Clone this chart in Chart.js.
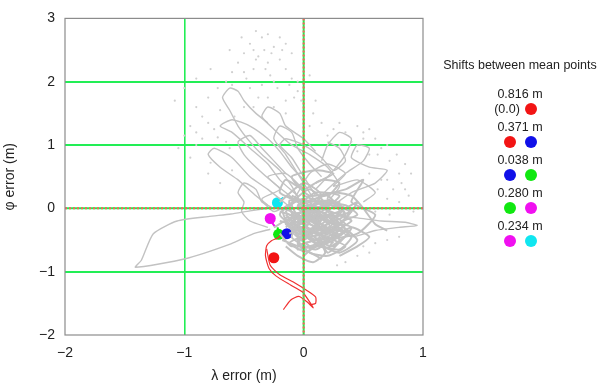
<!DOCTYPE html>
<html>
<head>
<meta charset="utf-8">
<script src="https://cdn.jsdelivr.net/npm/chart.js@4/dist/chart.umd.min.js"></script>
<style>
  body { margin: 0; background: #fff; }
  #wrap { position: relative; width: 601px; height: 387px; font-family: "Liberation Sans", Arial, sans-serif; color: #222; }
  #legend div { position: absolute; }
  .lbl { font-size: 12.5px; text-align: center; width: 80px; line-height: 14px; }
  .dot { width: 12px; height: 12px; border-radius: 50%; }
</style>
</head>
<body>
<div id="wrap">
  <canvas id="chart" width="601" height="387"></canvas>
  <div id="legend"></div>
</div>
<script>
'use strict';

// axis ticks
let xTicks = [-2, -1, 0, 1];
let yTicks = [-2, -1, 0, 1, 2, 3];

// mean points (x = lambda error, y = phi error)
let meanNames = ['red', 'blue', 'green', 'magenta', 'cyan'];
let meanColors = ['#f21414', '#1010e8', '#10e810', '#f010f0', '#10e6f0'];
let meanX = [-0.25, -0.14, -0.21, -0.28, -0.22];
let meanY = [-0.78, -0.40, -0.41, -0.16, 0.09];

// legend
let shiftLabels = ['0.816 m', '0.371 m', '0.038 m', '0.280 m', '0.234 m'];
let shiftPairs = [[null, 0], [0, 1], [1, 2], [2, 3], [3, 4]];

// red trajectory
let redPath = [[-0.19,-0.42],[-0.22,-0.47],[-0.27,-0.51],[-0.31,-0.59],[-0.32,-0.75],[-0.29,-0.95],[-0.23,-1.07],[-0.11,-1.21],[-0.01,-1.32],[0.04,-1.45],[0.08,-1.57],[0.03,-1.48],[-0.04,-1.39],[-0.11,-1.45],[-0.17,-1.6]];
let redPath2 = [[-0.31,-0.64],[-0.28,-0.9],[-0.2,-1.05],[-0.08,-1.17],[0.03,-1.3],[0.1,-1.4],[0.1,-1.5],[0.06,-1.52]];

// colored trails near mean points
let cyanTrail = [[-0.25,0.0],[-0.22,0.09],[-0.19,0.14],[-0.17,0.17]];
let magentaTrail = [[-0.28,-0.16],[-0.26,-0.24],[-0.24,-0.29]];
let greenTrail = [[-0.22,-0.3],[-0.21,-0.36],[-0.21,-0.41]];

// gray trajectories
let grayPaths = [
  [[-0.28,-0.33],[-0.42,-0.4],[-0.61,-0.56],[-1.0,-0.8],[-1.41,-0.93],[-1.36,-0.82],[-1.26,-0.4],[-1.06,-0.2],[-0.8,-0.13],[-0.61,-0.09],[-0.45,-0.04],[-0.3,0.0]],
  [[-0.15,-0.3],[0.0,-0.1],[0.2,-0.35],[0.1,-0.55],[-0.05,-0.2],[0.25,0.1],[0.35,-0.15],[0.1,-0.4],[-0.1,0.05],[0.05,0.3],[0.2,0.0],[0.0,-0.5],[-0.15,-0.15],[0.15,-0.25],[0.3,-0.5],[0.2,-0.7],[0.1,-0.3]],
  [[0.05,-0.6],[-0.1,-0.35],[0.15,-0.05],[0.3,0.2],[0.1,0.25],[-0.05,0.0],[0.2,-0.2],[0.4,-0.3],[0.25,-0.6],[0.05,-0.45],[-0.2,-0.1],[0.0,0.15],[0.15,-0.15],[-0.05,-0.55],[0.15,-0.8]],
  [[-0.2,0.1],[0.0,0.4],[0.15,0.2],[-0.05,-0.25],[0.3,-0.05],[0.45,0.1],[0.3,-0.25],[0.05,-0.1],[-0.1,-0.45],[0.1,-0.65],[0.25,-0.4],[0.0,-0.3],[-0.2,-0.2]],
  [[0.1,0.4],[0.25,0.55],[0.1,0.6],[-0.1,0.5],[0.05,0.2],[0.35,0.3],[0.5,0.45],[0.4,0.1],[0.6,-0.1],[0.45,-0.4],[0.2,-0.5],[-0.05,-0.65],[0.0,-0.35]],
  [[-0.25,-0.3],[-0.1,-0.15],[0.1,-0.2],[-0.05,0.1],[-0.2,0.25],[-0.15,0.45],[0.0,0.3],[0.15,0.45],[0.3,0.4],[0.2,0.15],[0.4,-0.05],[0.25,-0.15],[0.45,-0.5],[0.3,-0.7],[0.1,-0.55]],
  [[-0.18,-0.5],[0.0,-0.62],[0.2,-0.55],[0.35,-0.35],[0.2,-0.1],[0.0,-0.2],[-0.15,-0.05],[0.05,0.05],[0.3,-0.1],[0.4,-0.2],[0.15,-0.45],[-0.1,-0.6],[-0.2,-0.4]],
  [[0.0,-0.75],[0.1,-0.6],[0.3,-0.65],[0.4,-0.45],[0.25,-0.25],[0.1,-0.05],[-0.1,-0.2],[-0.05,-0.4],[0.15,-0.3],[0.3,-0.05],[0.2,0.2],[0.0,0.1],[-0.15,0.2]],
  [[-0.2,-0.05],[-0.05,-0.15],[0.05,-0.35],[0.25,-0.5],[0.35,-0.6],[0.2,-0.75],[0.05,-0.7],[-0.05,-0.5],[0.12,-0.42],[0.28,-0.3],[0.38,-0.05],[0.22,0.05],[0.05,-0.05]],
  [[-0.1,0.2],[0.05,0.05],[0.25,-0.2],[0.1,-0.3],[-0.05,-0.1],[-0.18,0.0],[-0.12,-0.3],[0.02,-0.45],[0.2,-0.38],[0.33,-0.2],[0.45,-0.1],[0.35,0.05],[0.15,0.1]],
  [[0.3,-0.75],[0.45,-0.6],[0.55,-0.45],[0.4,-0.3],[0.25,-0.45],[0.1,-0.15],[-0.05,0.05],[0.1,0.15],[0.25,0.25],[0.4,0.2],[0.5,0.0],[0.6,-0.25],[0.7,-0.35]],
  [[-0.15,-0.6],[-0.05,-0.75],[0.08,-0.85],[0.18,-0.7],[0.12,-0.5],[-0.02,-0.3],[-0.12,-0.2],[0.02,-0.02],[0.18,-0.08],[0.28,-0.35],[0.22,-0.6]],
  [[0.0,0.0],[-0.08,-0.22],[0.1,-0.12],[0.22,-0.28],[0.05,-0.38],[-0.15,-0.25],[-0.05,-0.08],[0.12,0.02],[0.3,0.1],[0.2,-0.05],[0.35,-0.25],[0.2,-0.45],[0.0,-0.55]],
  [[-0.12,-0.4],[0.05,-0.25],[0.2,-0.42],[0.08,-0.18],[0.25,-0.12],[0.12,0.08],[-0.02,-0.05],[0.15,-0.32],[0.3,-0.42],[0.1,-0.5],[-0.08,-0.3],[0.06,-0.1],[0.18,0.05],[0.0,0.2]],
  [[0.25,-0.55],[0.1,-0.38],[-0.05,-0.45],[0.05,-0.2],[-0.1,-0.1],[0.08,-0.05],[0.22,-0.22],[0.35,-0.1],[0.25,0.12],[0.05,0.1],[-0.12,0.12],[-0.05,-0.3],[0.15,-0.6],[0.32,-0.3]],
  [[-0.15,-0.1],[0.0,-0.35],[0.18,-0.2],[0.04,-0.02],[0.2,0.12],[0.33,0.0],[0.22,-0.32],[0.38,-0.38],[0.2,-0.62],[0.0,-0.45],[-0.12,-0.55],[0.02,-0.68],[0.22,-0.48]],
  [[0.0,0.3],[-0.15,0.55],[-0.3,0.5],[-0.2,0.3],[-0.35,0.15],[-0.25,-0.05],[-0.1,0.1],[0.05,0.55],[0.2,0.7],[0.35,0.55],[0.25,0.35],[0.45,0.45],[0.6,0.25],[0.5,0.1]],
  [[0.15,0.0],[0.3,0.35],[0.2,0.65],[0.05,0.85],[-0.1,1.0],[-0.25,1.25],[-0.35,1.45],[-0.3,1.6],[-0.2,1.5],[-0.15,1.3],[0.0,1.1],[0.1,0.9]],
  [[-0.05,0.1],[-0.25,0.4],[-0.4,0.65],[-0.5,0.85],[-0.55,1.05],[-0.45,1.15],[-0.35,0.95],[-0.25,0.75],[-0.15,0.55]],
  [[0.1,0.3],[0.25,0.6],[0.35,0.85],[0.4,1.1],[0.3,1.2],[0.2,1.0],[0.15,0.75]],
  [[0.0,0.0],[-0.1,0.35],[-0.2,0.6],[-0.35,0.85],[-0.45,1.05],[-0.55,1.3],[-0.62,1.55],[-0.68,1.75],[-0.62,1.9],[-0.55,1.85],[-0.5,1.7],[-0.4,1.5],[-0.3,1.35]],
  [[-0.05,0.2],[-0.2,0.45],[-0.3,0.7],[-0.45,0.95],[-0.6,1.2],[-0.7,1.3],[-0.6,1.4],[-0.45,1.3],[-0.3,1.1],[-0.2,0.9],[-0.1,0.65],[0.0,0.45]],
  [[0.1,0.1],[-0.05,0.55],[-0.15,0.85],[-0.25,1.1],[-0.2,1.3],[-0.1,1.2],[-0.05,0.95],[0.05,0.7],[0.15,0.5]],
  [[-0.1,0.0],[-0.3,0.3],[-0.45,0.5],[-0.6,0.8],[-0.75,0.95],[-0.8,0.85],[-0.7,0.65],[-0.55,0.45],[-0.4,0.2],[-0.3,0.05]],
  [[0.05,0.0],[0.2,0.3],[0.35,0.55],[0.5,0.75],[0.55,0.95],[0.45,1.0],[0.4,0.8],[0.55,0.65],[0.7,0.6],[0.6,0.4],[0.4,0.25],[0.25,0.05]],
  [[0.2,-0.1],[0.45,-0.15],[0.65,-0.2],[0.85,-0.22],[0.95,-0.27],[0.8,-0.3],[0.6,-0.35],[0.4,-0.45],[0.25,-0.3]],
  [[0.1,0.2],[0.0,0.5],[-0.1,0.8],[-0.2,1.0],[-0.15,1.1],[0.0,1.0],[0.15,0.8],[0.25,0.6],[0.35,0.75],[0.3,0.95],[0.2,1.05]],
  [[-0.3,-0.3],[-0.45,-0.2],[-0.52,-0.05],[-0.5,0.1],[-0.55,0.25],[-0.5,0.4],[-0.4,0.3],[-0.35,0.1],[-0.25,0.0]]
];

// scattered gray samples
let grayDots = [[-0.4,2.8],[-0.35,2.7],[-0.3,2.75],[-0.45,2.6],[-0.25,2.55],[-0.5,2.45],[-0.38,2.4],[-0.3,2.3],[-0.2,2.35],[-0.55,2.3],[-0.42,2.2],[-0.6,2.15],[-0.28,2.1],[-0.15,2.2],[-0.1,2.05],[-0.48,2.05],[-0.65,2.0],[-0.72,1.9],[-0.35,1.95],[-0.22,1.9],[-0.05,1.85],[-0.8,1.75],[-0.9,1.6],[-0.85,1.45],[-0.95,1.3],[-1.0,1.15],[-1.05,0.95],[-0.9,1.0],[-0.95,0.8],[-1.08,1.7],[-1.0,1.9],[-0.9,2.05],[-0.78,2.2],[-0.62,2.5],[-0.52,2.7],[-0.15,2.6],[-0.1,2.45],[0.0,2.3],[0.05,2.1],[-0.02,1.7],[0.08,1.5],[0.15,1.35],[0.25,1.25],[0.35,1.2],[0.45,1.3],[0.55,1.25],[0.6,1.1],[0.7,1.0],[0.78,0.85],[0.85,0.7],[0.9,0.55],[0.82,0.4],[0.75,0.3],[0.88,0.2],[0.8,0.1],[0.92,-0.05],[0.7,0.15],[0.65,0.45],[0.55,0.55],[0.62,0.85],[0.5,1.1],[0.4,1.05],[0.3,1.0],[-0.25,1.6],[-0.15,1.5],[-0.38,1.75],[-0.5,1.6],[-0.7,1.55],[-0.75,1.25],[-0.85,1.1],[-0.65,1.05],[-0.8,0.55],[-0.7,0.4],[-0.6,0.6],[0.8,-0.45],[0.7,-0.5],[0.6,-0.55],[0.5,-0.6],[0.45,-0.75],[0.35,-0.85],[0.28,-0.9],
  [-0.33,2.5],[-0.27,2.45],[-0.4,2.35],[-0.18,2.5],[-0.5,2.15],[-0.32,2.2],[-0.6,1.95],[-0.45,1.9],[-0.12,1.95],[-0.08,1.75],[0.0,1.55],[0.1,1.7],[-0.3,1.75],[-0.42,1.6],[-0.58,1.45],[-0.8,1.35],[-0.9,1.2],[-0.72,1.12],[-0.62,0.95],[-0.78,0.72],[0.2,1.15],[0.3,1.35],[0.5,1.2],[0.65,0.95],[0.72,0.75],[0.8,0.55],[0.7,0.45],[0.85,0.3],[0.62,0.3],[0.55,0.85],[0.45,0.9],[0.05,1.3],[-0.15,1.7],[-0.05,2.0],[-0.25,2.0],[-0.2,2.7],[-0.42,2.5],[0.6,-0.05],[0.72,-0.1],[0.55,-0.7]];

function toPts(arr) {
  return arr.map(p => ({x: p[0], y: p[1]}));
}

let datasets = [];
datasets.push({data: toPts(grayDots), showLine: false, pointRadius: 1.1, backgroundColor: '#d0d0d0', borderWidth: 0});
for (let i = 0; i < grayPaths.length; i++) {
  // the first paths after the long left loop form the dense core
  let w = (i > 0 && i < 16) ? 2 : 1.4;
  datasets.push({data: toPts(grayPaths[i]), showLine: true, borderColor: '#c2c2c2', borderWidth: w, pointRadius: 0, tension: 0.2});
}
datasets.push({data: toPts(redPath), showLine: true, borderColor: '#f03030', borderWidth: 1.2, pointRadius: 0, tension: 0.2});
datasets.push({data: toPts(redPath2), showLine: true, borderColor: '#f03030', borderWidth: 1.2, pointRadius: 0, tension: 0.2});
datasets.push({data: toPts(cyanTrail), showLine: true, borderColor: meanColors[4], borderWidth: 2, pointRadius: 0});
datasets.push({data: toPts(magentaTrail), showLine: true, borderColor: meanColors[3], borderWidth: 2, pointRadius: 0});
datasets.push({data: toPts(greenTrail), showLine: true, borderColor: meanColors[2], borderWidth: 2, pointRadius: 0});
for (let i = 0; i < meanNames.length; i++) {
  datasets.push({label: meanNames[i], data: [{x: meanX[i], y: meanY[i]}], pointRadius: 5.5, backgroundColor: meanColors[i], borderWidth: 0});
}

// frame and zero lines
let framePlugin = {
  id: 'frame',
  afterDatasetsDraw(chart) {
    let ctx = chart.ctx;
    let a = chart.chartArea;
    let x0 = chart.scales.x.getPixelForValue(0);
    let y0 = chart.scales.y.getPixelForValue(0);
    ctx.save();
    ctx.lineWidth = 2;
    ctx.strokeStyle = '#20f050';
    ctx.beginPath();
    ctx.moveTo(x0, a.top); ctx.lineTo(x0, a.bottom);
    ctx.moveTo(a.left, y0); ctx.lineTo(a.right, y0);
    ctx.stroke();
    ctx.setLineDash([2, 2]);
    ctx.strokeStyle = '#ff5a5a';
    ctx.beginPath();
    ctx.moveTo(x0, a.top); ctx.lineTo(x0, a.bottom);
    ctx.moveTo(a.left, y0); ctx.lineTo(a.right, y0);
    ctx.stroke();
    ctx.setLineDash([]);
    ctx.lineWidth = 1.2;
    ctx.strokeStyle = '#8c8c8c';
    ctx.strokeRect(a.left, a.top, a.right - a.left, a.bottom - a.top);
    ctx.restore();
  }
};

function gridColor(c) {
  let v = c.tick ? c.tick.value : null;
  let s = c.scale;
  if (v === s.min || v === s.max || v === 0) return 'rgba(0,0,0,0)';
  return '#22ee55';
}

function minus(v) {
  return String(v).replace('-', '\u2212');
}

new Chart(document.getElementById('chart'), {
  type: 'scatter',
  data: {datasets: datasets},
  plugins: [framePlugin],
  options: {
    responsive: false,
    animation: false,
    layout: {padding: {top: 14, right: 178, left: 0, bottom: 0}},
    plugins: {legend: {display: false}, tooltip: {enabled: false}},
    scales: {
      x: {
        type: 'linear', min: -2, max: 1,
        afterBuildTicks: s => { s.ticks = xTicks.map(v => ({value: v})); },
        afterFit: s => { s.height = 52; },
        grid: {color: gridColor, lineWidth: 1.6, drawTicks: false},
        border: {display: false},
        ticks: {padding: 10, color: '#222', font: {family: 'Liberation Sans', size: 14}, callback: minus},
        title: {display: true, text: '\u03bb error (m)', color: '#222', font: {family: 'Liberation Sans', size: 14}, padding: {top: 0, bottom: 2}}
      },
      y: {
        type: 'linear', min: -2, max: 3,
        afterBuildTicks: s => { s.ticks = yTicks.map(v => ({value: v})); },
        afterFit: s => { s.width = 65; },
        grid: {color: gridColor, lineWidth: 2, drawTicks: false},
        border: {display: false},
        ticks: {padding: 10, color: '#222', font: {family: 'Liberation Sans', size: 14}, callback: minus},
        title: {display: true, text: '\u03c6 error (m)', color: '#222', font: {family: 'Liberation Sans', size: 14}, padding: {top: 2, bottom: 0}}
      }
    }
  }
});

// legend on the right
let legend = document.getElementById('legend');
let head = document.createElement('div');
head.className = 'lbl';
head.style.width = '170px';
head.style.left = '435px';
head.style.top = '58px';
head.textContent = 'Shifts between mean points';
legend.appendChild(head);
for (let i = 0; i < shiftLabels.length; i++) {
  let t = document.createElement('div');
  t.className = 'lbl';
  t.style.left = '480px';
  t.style.top = (87 + i * 33) + 'px';
  t.textContent = shiftLabels[i];
  legend.appendChild(t);
  let pair = shiftPairs[i];
  let cy = 109 + i * 33;
  if (pair[0] === null) {
    let z = document.createElement('div');
    z.className = 'lbl';
    z.style.width = '30px';
    z.style.left = '492px';
    z.style.top = (cy - 7) + 'px';
    z.textContent = '(0.0)';
    legend.appendChild(z);
  } else {
    let d = document.createElement('div');
    d.className = 'dot';
    d.style.left = '504px';
    d.style.top = (cy - 6) + 'px';
    d.style.background = meanColors[pair[0]];
    legend.appendChild(d);
  }
  let d2 = document.createElement('div');
  d2.className = 'dot';
  d2.style.left = '525px';
  d2.style.top = (cy - 6) + 'px';
  d2.style.background = meanColors[pair[1]];
  legend.appendChild(d2);
}
</script>
</body>
</html>
